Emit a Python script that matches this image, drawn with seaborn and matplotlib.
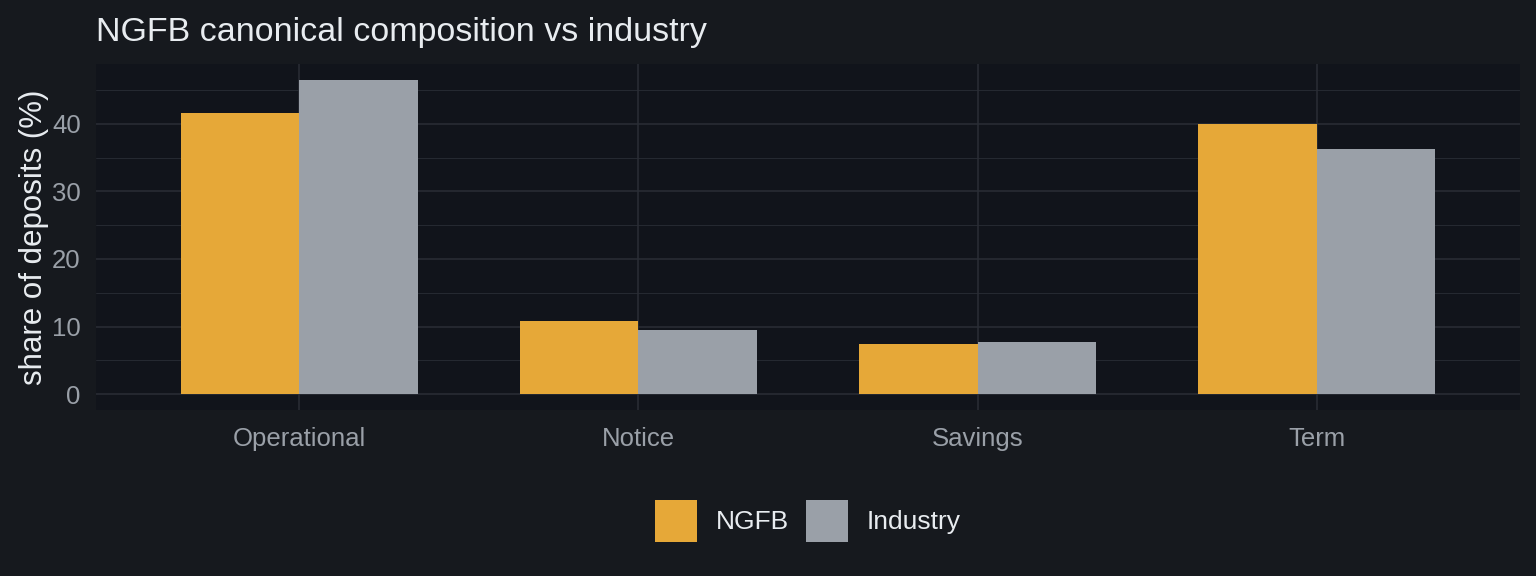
import matplotlib
matplotlib.use("Agg")
import matplotlib.pyplot as plt
import seaborn as sns
import pandas as pd
from matplotlib.patches import Patch
from matplotlib.ticker import MultipleLocator

categories = ["Operational", "Notice", "Savings", "Term"]
ngfb = [41.6, 10.8, 7.5, 39.9]
industry = [46.5, 9.45, 7.8, 36.3]
series = ["NGFB", "Industry"]
colors = {"NGFB": "#E6A838", "Industry": "#9AA0A8"}

df = pd.DataFrame({
    "category": categories * 2,
    "share": ngfb + industry,
    "series": ["NGFB"] * 4 + ["Industry"] * 4,
})

FIG_BG = "#16191E"
PANEL_BG = "#11141B"
GRID = "#2A2E36"
TICK_C = "#9AA0A8"
TEXT_C = "#E8ECF0"

sns.set_theme(style="dark")
plt.rcParams["font.family"] = ["Liberation Sans", "DejaVu Sans"]

fig = plt.figure(figsize=(15.36, 5.76), dpi=100, facecolor=FIG_BG)
ax = fig.add_axes([96/1536, 1-410/576, (1520-96)/1536, (410-64)/576])
ax.set_facecolor(PANEL_BG)

sns.barplot(data=df, x="category", y="share", hue="series", order=categories,
            hue_order=series, palette=colors, width=0.7, saturation=1,
            ax=ax, legend=False, zorder=3, linewidth=0)

ax.set_xlim(-0.6, 3.6)
ax.set_ylim(-2.325, 48.825)
ax.yaxis.set_major_locator(MultipleLocator(10))
ax.yaxis.set_minor_locator(MultipleLocator(5))
ax.grid(which="major", axis="both", color=GRID, linewidth=1.1, zorder=0)
ax.grid(which="minor", axis="y", color=GRID, linewidth=0.6, zorder=0)
ax.set_axisbelow(True)
for s in ax.spines.values():
    s.set_visible(False)
ax.tick_params(axis="both", which="both", length=0, colors=TICK_C, labelsize=18.5)
ax.tick_params(axis="x", pad=12)
ax.tick_params(axis="y", pad=11)
ax.set_xlabel("")
ax.set_ylabel("share of deposits (%)", color=TEXT_C, fontsize=22.5, labelpad=2)

fig.text(96/1536, 1-32/576, "NGFB canonical composition vs industry",
         color=TEXT_C, fontsize=24.5, ha="left", va="center")

handles = [Patch(facecolor=colors[s], edgecolor="none", label=s) for s in series]
leg = fig.legend(handles=handles, loc="center", bbox_to_anchor=(808/1536, 1-521/576),
                 ncol=2, frameon=False, fontsize=19, handlelength=1.59,
                 handleheight=2.05, handletextpad=0.72, columnspacing=0.65)
for t in leg.get_texts():
    t.set_color(TEXT_C)

fig.savefig("out.png", dpi=100, facecolor=FIG_BG)
